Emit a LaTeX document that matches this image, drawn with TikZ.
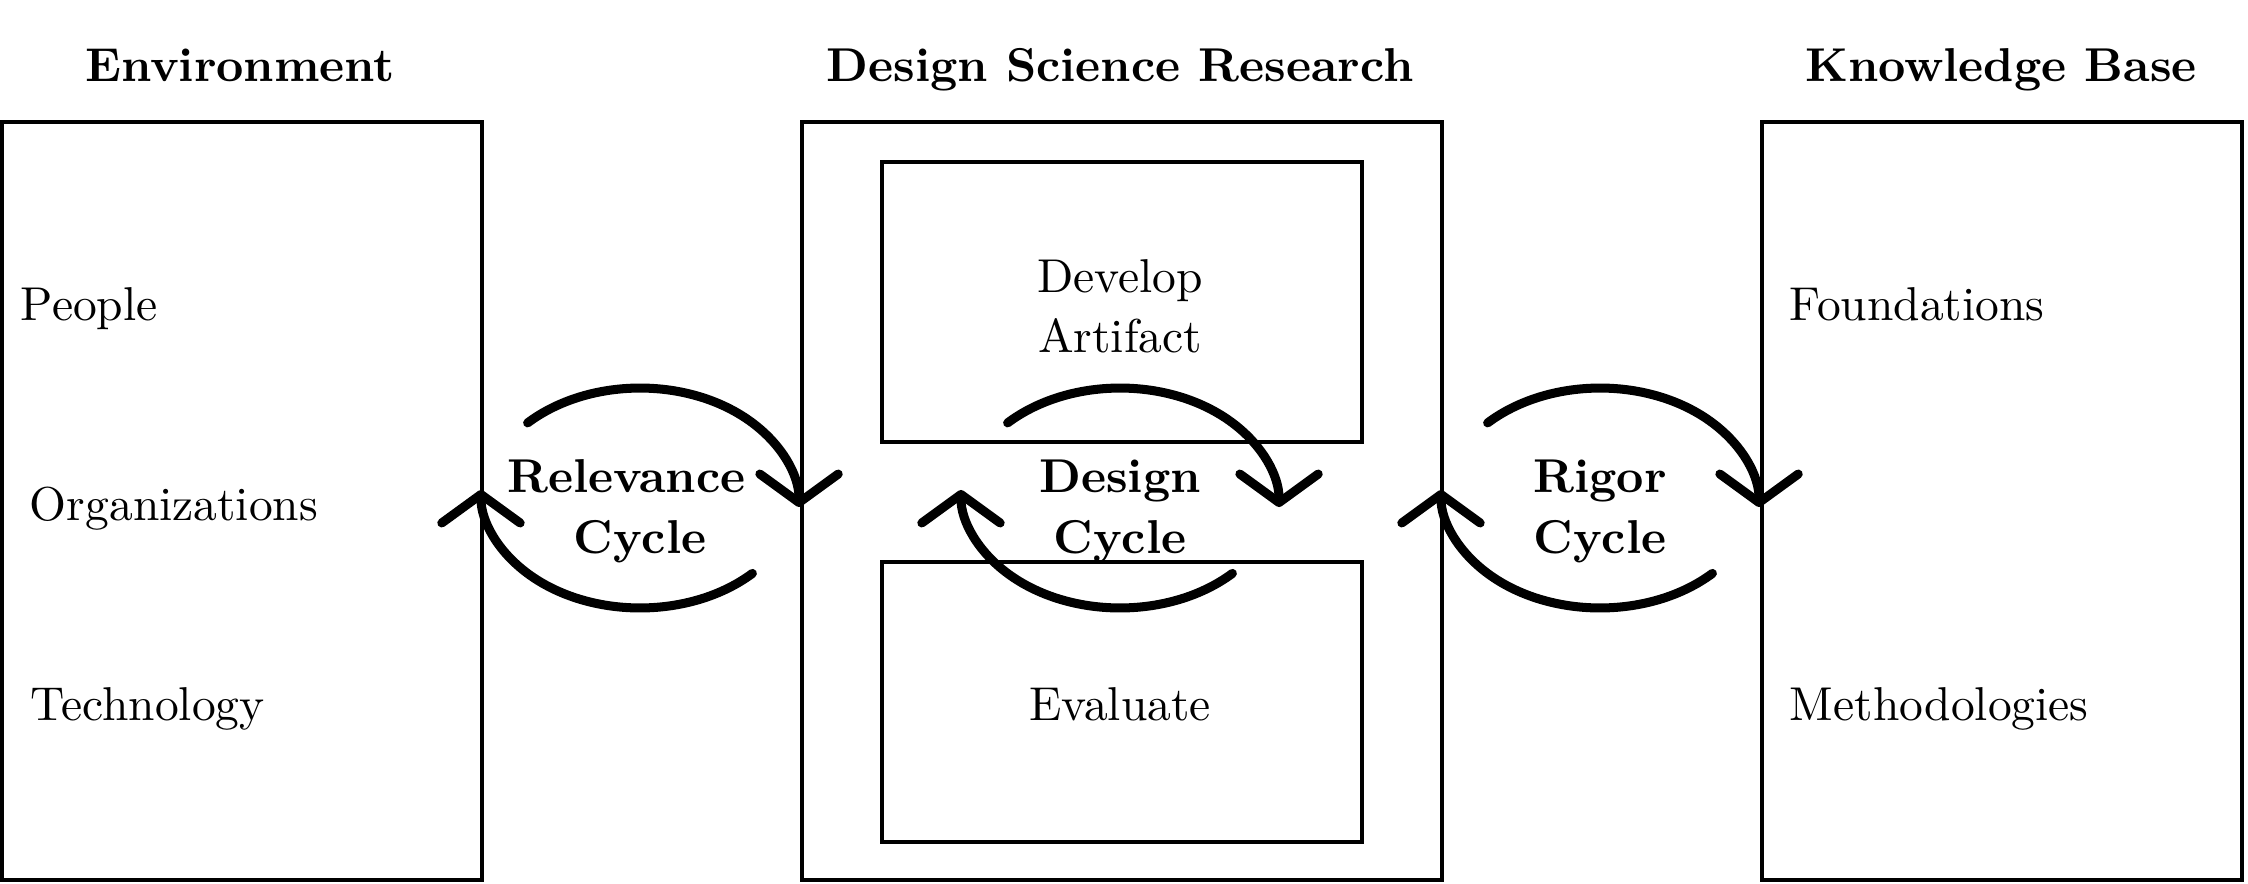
\documentclass[tikz,border=0pt]{standalone}
\usetikzlibrary{arrows.meta}
\begin{document}
\begin{tikzpicture}[x=0.2105pt,y=-0.2105pt,
  box/.style={draw, line width=0.84pt, inner sep=0, outer sep=0},
  ttl/.style={font=\bfseries, anchor=base, inner sep=0},
  item/.style={anchor=base west, inner sep=0},
  cyc/.style={line width=1.9pt, line cap=round, -{Straight Barb[length=6pt,width=16.5pt,round]}},
  clab/.style={font=\fontsize{10}{12.8}\selectfont\bfseries, align=center, inner sep=0, anchor=base},
  ctext/.style={font=\fontsize{10}{12.8}\selectfont, align=center, inner sep=0, anchor=base}]
\useasboundingbox (0,0) rectangle (2248,884);

% boxes
\node[box, minimum width=101.04pt, minimum height=159.56pt] (env) at (242,501) {};
\node[box, minimum width=134.72pt, minimum height=159.56pt] (dsr) at (1122,501) {};
\node[box, minimum width=101.04pt, minimum height=58.94pt] (dev) at (1122,302) {};
\node[box, minimum width=101.04pt, minimum height=58.94pt] (eval) at (1122,702) {};
\node[box, minimum width=101.04pt, minimum height=159.56pt] (kb) at (2002,501) {};

% titles
\node[ttl] (tenv) at (240,82) {Environment};
\node[ttl] (tdsr) at (1120,82) {Design Science Research};
\node[ttl] (tkb) at (2001,82) {Knowledge Base};

% items
\node[item] (people) at (20,321) {People};
\node[item] (org) at (29,520) {Organizations};
\node[item] (tech) at (30,720) {Technology};
\node[item] (found) at (1789,321) {Foundations};
\node[item] (meth) at (1789,720) {Methodologies};
\node[ctext] (devt) at (1120,353) {Develop\\Artifact};
\node[item, anchor=base] (evalt) at (1120,720) {Evaluate};

% cycle labels
\node[clab] (rel) at (640,553) {Relevance\hspace*{5.7pt}\\Cycle};
\node[clab] (des) at (1120,553) {Design\\Cycle};
\node[clab] (rig) at (1600,553) {Rigor\\Cycle};

% cycle arrows
\foreach \c/\n in {640/r,1120/d,1600/g}{
  \coordinate (\n top) at ({\c-112.4},422.9);
  \coordinate (\n bot) at ({\c+112.4},573.4);
  \draw[cyc] (\n top) arc[start angle=225, end angle=360, x radius=159, y radius=119];
  \draw[cyc] (\n bot) arc[start angle=45, end angle=180, x radius=159, y radius=118];
}
\end{tikzpicture}
\end{document}
